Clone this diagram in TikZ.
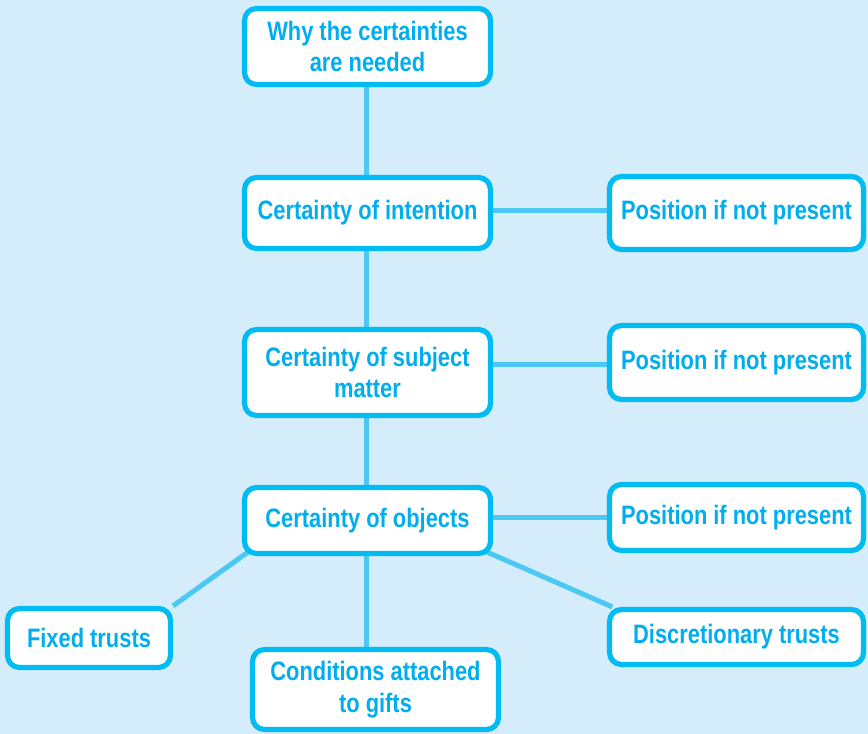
\documentclass[tikz,border=0pt]{standalone}
\usepackage{fontspec}
\setmainfont{Liberation Sans}[FakeStretch=0.82]
\definecolor{bgc}{HTML}{D5EDFA}
\definecolor{boxc}{HTML}{00BCF2}
\definecolor{txtc}{HTML}{00AEEF}
\definecolor{linec}{HTML}{4CC9F2}
\pgfdeclarelayer{bg}
\pgfdeclarelayer{lines}
\pgfsetlayers{bg,lines,main}
\tikzset{
  box/.style={draw=boxc, line width=3.9pt, fill=white, rounded corners=9pt,
    text=txtc, font=\bfseries\fontsize{20}{23.5}\selectfont, align=center,
    inner sep=0pt},
  conn/.style={draw=linec, line width=3.75pt}
}
\begin{document}
\begin{tikzpicture}[x=0.75pt,y=-0.75pt]
\begin{pgfonlayer}{bg}
\fill[bgc] (0,0) rectangle (868,734);
\end{pgfonlayer}
\useasboundingbox (0,0) rectangle (868,734);
\node[box, minimum width=246*0.75pt, minimum height=76*0.75pt] (why) at (367.5,46.5) {Why the certainties\\are needed};
\node[box, minimum width=246*0.75pt, minimum height=71*0.75pt] (intent) at (367.5,213) {Certainty of intention};
\node[box, minimum width=254*0.75pt, minimum height=73*0.75pt] (pos1) at (736.5,213) {Position if not present};
\node[box, minimum width=246*0.75pt, minimum height=86*0.75pt] (subject) at (367.5,372.5) {Certainty of subject\\matter};
\node[box, minimum width=254*0.75pt, minimum height=74*0.75pt] (pos2) at (736.5,362.5) {Position if not present};
\node[box, minimum width=246*0.75pt, minimum height=66*0.75pt] (objects) at (367.5,520.5) {Certainty of objects};
\node[box, minimum width=254*0.75pt, minimum height=66*0.75pt] (pos3) at (736.5,517.5) {Position if not present};
\node[box, minimum width=163*0.75pt, minimum height=59*0.75pt] (fixed) at (89,638) {Fixed trusts};
\node[box, minimum width=246*0.75pt, minimum height=80*0.75pt] (cond) at (375.5,689.5) {Conditions attached\\to gifts};
\node[box, minimum width=254*0.75pt, minimum height=55*0.75pt] (disc) at (736.5,637) {Discretionary trusts};
\begin{pgfonlayer}{lines}
\draw[conn] (why.south -| 366,0) -- (intent.north -| 366,0);
\draw[conn] (intent.south -| 366,0) -- (subject.north -| 366,0);
\draw[conn] (subject.south -| 366,0) -- (objects.north -| 366,0);
\draw[conn] (objects.south -| 366,0) -- (cond.north -| 366,0);
\draw[conn] (intent.east |- 0,211) -- (pos1.west |- 0,211);
\draw[conn] (subject.east |- 0,365) -- (pos2.west |- 0,365);
\draw[conn] (objects.east |- 0,517) -- (pos3.west |- 0,517);
\draw[conn] (objects.south west) ++(6,-4) coordinate (oa) -- (fixed.north east);
\draw[conn] (objects.south east) ++(-6,-4) coordinate (ob) -- ([xshift=4pt]disc.north west);
\end{pgfonlayer}
\end{tikzpicture}
\end{document}
